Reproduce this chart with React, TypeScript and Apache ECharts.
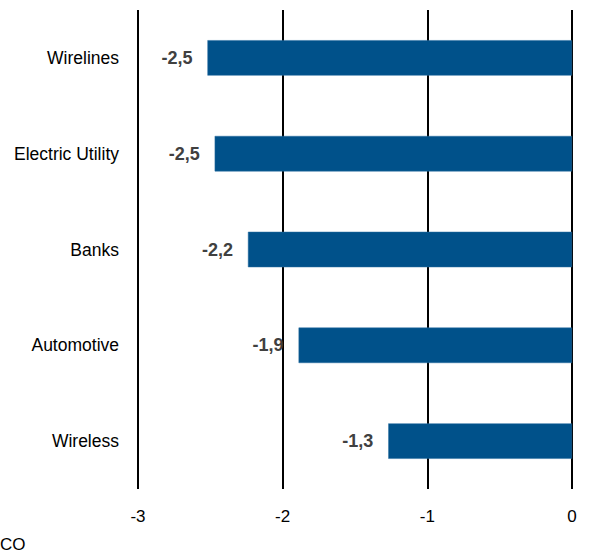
import React, { useEffect, useRef } from "react";
import * as echarts from "echarts";

const categories = ["Wirelines", "Electric Utility", "Banks", "Automotive", "Wireless"];
const values = [-2.52, -2.47, -2.24, -1.89, -1.27];
const xTicks = [-3, -2, -1, 0];
const footnote = "CO";

export default function App() {
  const ref = useRef<HTMLDivElement>(null);
  useEffect(() => {
    document.body.style.margin = "0";
    const chart = echarts.init(ref.current!, null, { renderer: "svg" });
    const font = "'Liberation Sans', Arial, sans-serif";
    chart.setOption({
      animation: false,
      textStyle: { fontFamily: font },
      grid: { left: 138, right: 19, top: 10, bottom: 68, containLabel: false },
      xAxis: {
        type: "value",
        min: xTicks[0],
        max: xTicks[xTicks.length - 1],
        interval: 1,
        axisLine: { show: false },
        axisTick: { show: false },
        axisLabel: { color: "#000", fontSize: 17, margin: 19, fontFamily: font },
        splitLine: { show: true, lineStyle: { color: "#000", width: 2 } },
      },
      yAxis: {
        type: "category",
        data: categories,
        inverse: true,
        axisLine: { show: false },
        axisTick: { show: false },
        axisLabel: { color: "#000", fontSize: 17.5, margin: 19, fontFamily: font },
        splitLine: { show: false },
      },
      series: [
        {
          type: "bar",
          data: values,
          barWidth: "37%",
          itemStyle: { color: "#00518a", borderColor: "#2a6fa0", borderWidth: 0.5 },
          label: {
            show: true,
            position: "left",
            distance: 15,
            color: "#404040",
            fontWeight: "bold",
            fontSize: 18,
            fontFamily: font,
            formatter: (p: any) => (Math.round(p.value * 10) / 10).toFixed(1).replace(".", ","),
          },
        },
      ],
      graphic: [
        {
          type: "text",
          left: 0,
          top: 536,
          style: { text: footnote, fontSize: 17, fill: "#000", fontFamily: font },
        },
      ],
    });
    return () => chart.dispose();
  }, []);
  return <div ref={ref} style={{ position: "absolute", left: 0, top: 0, width: 591, height: 557 }} />;
}
